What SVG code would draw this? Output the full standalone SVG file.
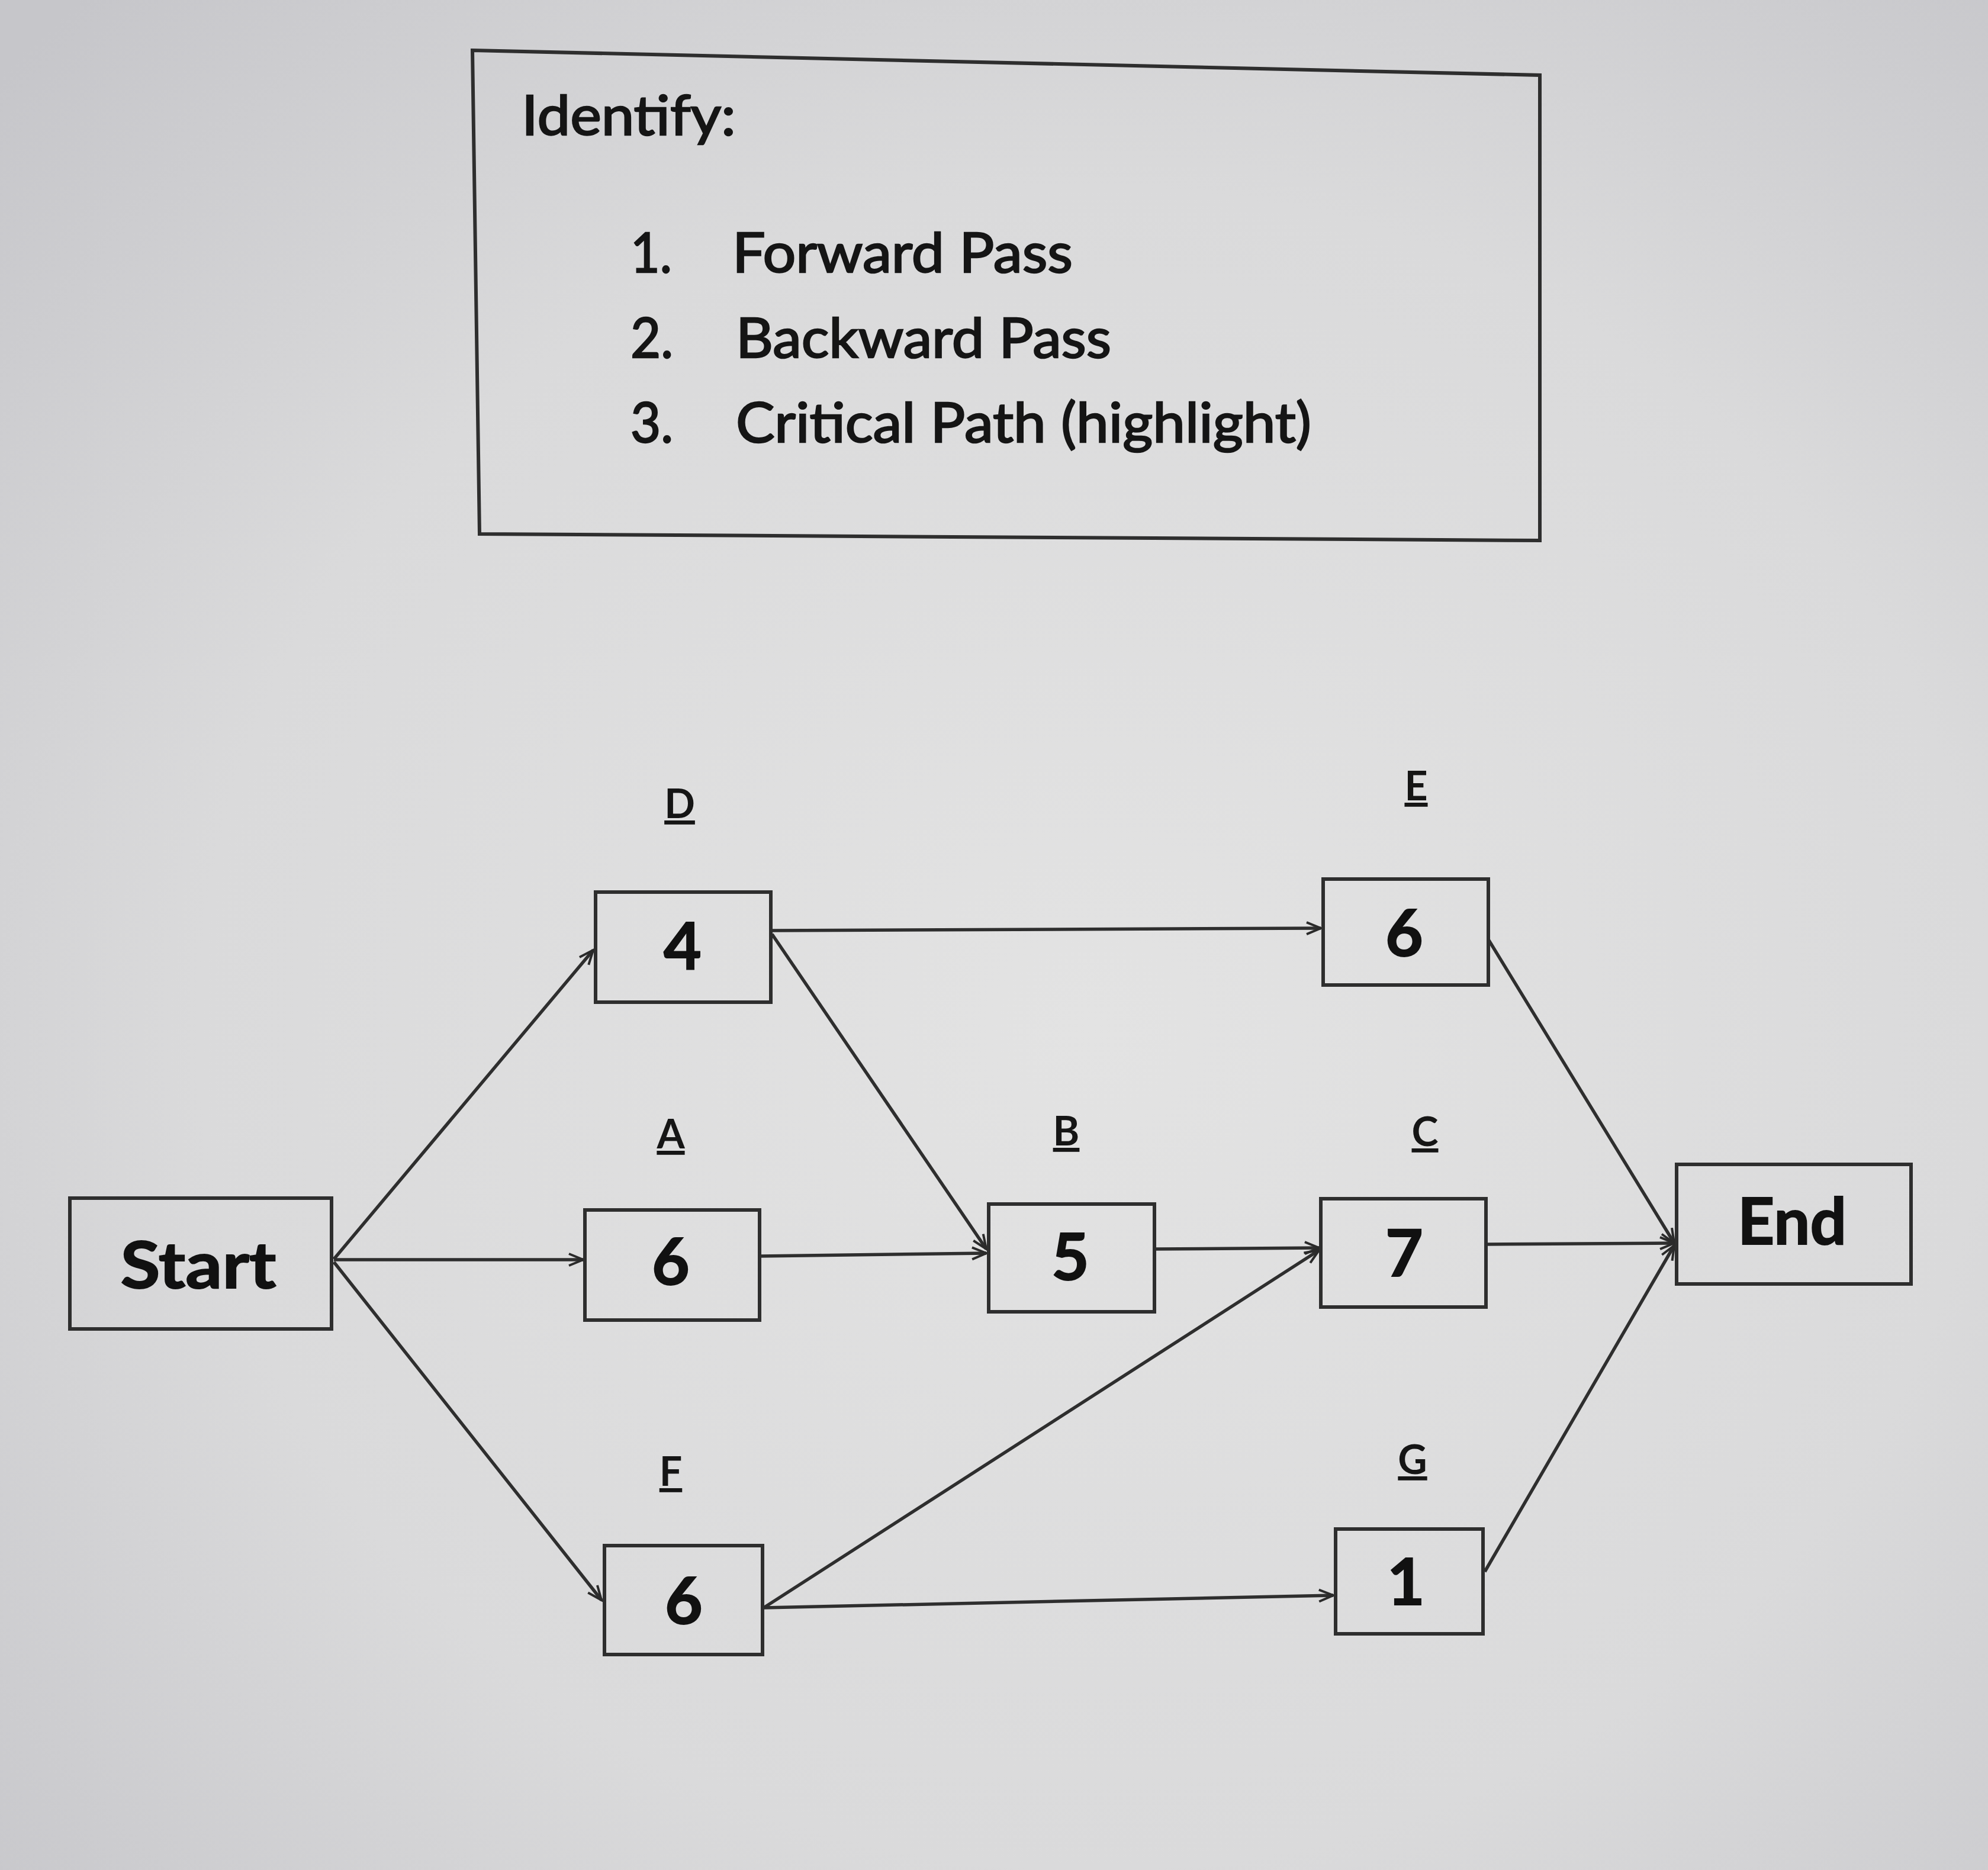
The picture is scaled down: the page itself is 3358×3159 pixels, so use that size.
<svg xmlns="http://www.w3.org/2000/svg" width="3358" height="3159" viewBox="0 0 3358 3159">
<defs>
<radialGradient id="bg" cx="0.55" cy="0.55" r="0.75">
<stop offset="0" stop-color="#e3e3e3"/>
<stop offset="0.6" stop-color="#dadadb"/>
<stop offset="1" stop-color="#c6c6ca"/>
</radialGradient>
<marker id="arr" markerUnits="userSpaceOnUse" markerWidth="34" markerHeight="30" refX="30" refY="15" orient="auto">
<path d="M6,5 L30,15 L6,25" fill="none" stroke="#2a2a2a" stroke-width="4"/>
</marker>
</defs>
<style>
.box{fill:none;stroke:#2e2e2e;stroke-width:6}
.num{font-family:Lato,"Liberation Sans",sans-serif;font-weight:bold;font-size:110px;fill:#111;stroke:#111;stroke-width:2;text-anchor:middle}
.lbl{font-family:Lato,"Liberation Sans",sans-serif;font-weight:bold;font-size:68px;fill:#151515;text-anchor:middle;text-decoration:underline}
.txt{font-family:Lato,"Liberation Sans",sans-serif;font-size:94px;fill:#151515;stroke:#151515;stroke-width:2.5}
.con{fill:none;stroke:#2e2e2e;stroke-width:5.5;marker-end:url(#arr)}
</style>
<rect x="0" y="0" width="3358" height="3159" fill="url(#bg)"/>

<g id="instructions">
<polygon class="box" points="798,85 2601,127 2601,913 810,902"/>
<text class="txt" x="881" y="228" textLength="362" lengthAdjust="spacingAndGlyphs">Identify:</text>
<text class="txt" x="1065" y="460" textLength="70" lengthAdjust="spacingAndGlyphs">1.</text>
<text class="txt" x="1237" y="460" textLength="575" lengthAdjust="spacingAndGlyphs">Forward Pass</text>
<text class="txt" x="1065" y="604" textLength="72" lengthAdjust="spacingAndGlyphs">2.</text>
<text class="txt" x="1243" y="604" textLength="634" lengthAdjust="spacingAndGlyphs">Backward Pass</text>
<text class="txt" x="1065" y="747" textLength="72" lengthAdjust="spacingAndGlyphs">3.</text>
<text class="txt" x="1243" y="747" textLength="972" lengthAdjust="spacingAndGlyphs">Critical Path (highlight)</text>
</g>

<g id="connectors">
<path class="con" d="M564,2127 L1002,1605"/>
<path class="con" d="M564,2128 L985,2128"/>
<path class="con" d="M564,2132 L1016,2703"/>
<path class="con" d="M1302,1572 L2231,1568"/>
<path class="con" d="M1304,1578 L1666,2110"/>
<path class="con" d="M1283,2122 L1666,2117"/>
<path class="con" d="M1950,2110 L2228,2108"/>
<path class="con" d="M1290,2716 L2228,2112"/>
<path class="con" d="M1290,2716 L2252,2695"/>
<path class="con" d="M2514,1587 L2828,2100"/>
<path class="con" d="M2510,2102 L2828,2100"/>
<path class="con" d="M2508,2655 L2828,2104"/>
</g>

<g id="node-start">
<rect class="box" x="118" y="2024" width="442" height="221"/>
<text class="num" x="335" y="2176" textLength="263" lengthAdjust="spacingAndGlyphs">Start</text>
</g>
<g id="node-D">
<text class="lbl" x="1148" y="1382">D</text>
<rect class="box" x="1006" y="1507" width="296" height="186"/>
<text class="num" x="1153" y="1637">4</text>
</g>
<g id="node-E">
<text class="lbl" x="2392" y="1352">E</text>
<rect class="box" x="2235" y="1485" width="279" height="179"/>
<text class="num" x="2372" y="1615">6</text>
</g>
<g id="node-A">
<text class="lbl" x="1133" y="1940">A</text>
<rect class="box" x="988" y="2044" width="295" height="186"/>
<text class="num" x="1133" y="2170">6</text>
</g>
<g id="node-B">
<text class="lbl" x="1801" y="1935">B</text>
<rect class="box" x="1670" y="2034" width="280" height="182"/>
<text class="num" x="1808" y="2162">5</text>
</g>
<g id="node-C">
<text class="lbl" x="2407" y="1936">C</text>
<rect class="box" x="2231" y="2025" width="279" height="183"/>
<text class="num" x="2372" y="2156">7</text>
</g>
<g id="node-F">
<text class="lbl" x="1133" y="2510">F</text>
<rect class="box" x="1021" y="2611" width="267" height="184"/>
<text class="num" x="1155" y="2743">6</text>
</g>
<g id="node-G">
<text class="lbl" x="2386" y="2490">G</text>
<rect class="box" x="2256" y="2583" width="249" height="177"/>
<text class="num" x="2375" y="2711">1</text>
</g>
<g id="node-end">
<rect class="box" x="2832" y="1967" width="396" height="202"/>
<text class="num" x="3027" y="2102" textLength="184" lengthAdjust="spacingAndGlyphs">End</text>
</g>
</svg>
